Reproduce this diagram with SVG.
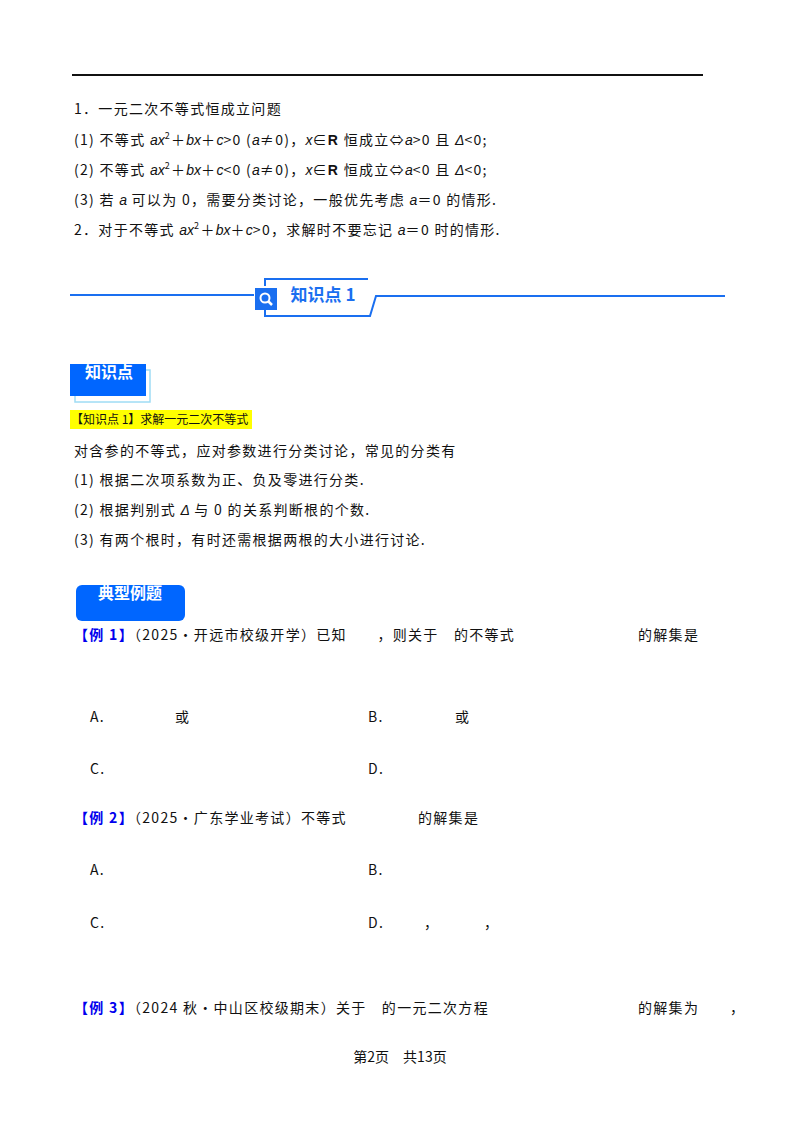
<svg xmlns="http://www.w3.org/2000/svg" width="800" height="1132" viewBox="0 0 800 1132">
<style>
.t{font-family:"Noto Sans CJK SC","Liberation Serif",serif;font-size:14px;fill:#111;letter-spacing:1.3px}
.m{font-family:"Liberation Sans",sans-serif;font-style:italic;letter-spacing:0}
.b{font-family:"Liberation Sans",sans-serif;font-weight:bold}
.w{font-family:"Noto Sans CJK SC",sans-serif;font-weight:bold;fill:#fff;font-size:16px}
.bl{fill:#0000ee;font-weight:bold}
</style>
<rect width="800" height="1132" fill="#fff"/>
<line x1="72" y1="75" x2="703" y2="75" stroke="#111" stroke-width="2"/>
<g id="intro">
<text class="t" x="74" y="114">1．一元二次不等式恒成立问题</text>
<text class="t" x="74" y="145">(1) 不等式 <tspan class="m">ax</tspan><tspan dy="-6" font-size="9">2</tspan><tspan dy="6">＋</tspan><tspan class="m">bx</tspan>＋<tspan class="m">c</tspan>&gt;0 (<tspan class="m">a</tspan>≠0)，<tspan class="m">x</tspan>∈<tspan class="b">R</tspan> 恒成立⇔<tspan class="m">a</tspan>&gt;0 且 <tspan class="m">Δ</tspan>&lt;0;</text>
<text class="t" x="74" y="175">(2) 不等式 <tspan class="m">ax</tspan><tspan dy="-6" font-size="9">2</tspan><tspan dy="6">＋</tspan><tspan class="m">bx</tspan>＋<tspan class="m">c</tspan>&lt;0 (<tspan class="m">a</tspan>≠0)，<tspan class="m">x</tspan>∈<tspan class="b">R</tspan> 恒成立⇔<tspan class="m">a</tspan>&lt;0 且 <tspan class="m">Δ</tspan>&lt;0;</text>
<text class="t" x="74" y="205">(3) 若 <tspan class="m">a</tspan> 可以为 0，需要分类讨论，一般优先考虑 <tspan class="m">a</tspan>＝0 的情形.</text>
<text class="t" x="74" y="235">2．对于不等式 <tspan class="m">ax</tspan><tspan dy="-6" font-size="9">2</tspan><tspan dy="6">＋</tspan><tspan class="m">bx</tspan>＋<tspan class="m">c</tspan>&gt;0，求解时不要忘记 <tspan class="m">a</tspan>＝0 时的情形.</text>
</g>
<g id="banner" fill="none" stroke="#1a6ff0" stroke-width="2">
<line x1="70" y1="295" x2="254" y2="295"/>
<polyline points="265,286 265,279 368,279"/>
<polyline points="265,309 265,316 370,316 376,296 725,296"/>
<rect x="255" y="288" width="22" height="22" fill="#1a6ff0" stroke="none"/>
<circle cx="265" cy="298" r="4.5" stroke="#fff" stroke-width="2"/>
<line x1="268" y1="301" x2="272" y2="305" stroke="#fff" stroke-width="2.5"/>
<text x="323" y="301" text-anchor="middle" font-family="Noto Sans CJK SC,sans-serif" font-weight="bold" font-size="17" fill="#1a6ff0" stroke="none">知识点 1</text>
</g>
<g id="kp-tag">
<rect x="75" y="370" width="75" height="32" fill="none" stroke="#9fdcf5" stroke-width="1.5"/>
<rect x="70" y="364" width="76" height="32" fill="#0066ff"/>
<text class="w" x="109" y="378" text-anchor="middle">知识点</text>
</g>
<g id="kp-body">
<rect x="70" y="410" width="182" height="19" fill="#ffff00"/>
<text x="71" y="424" font-family="Noto Sans CJK SC,sans-serif" font-size="12" fill="#111">【知识点 1】求解一元二次不等式</text>
<text class="t" x="74" y="456">对含参的不等式，应对参数进行分类讨论，常见的分类有</text>
<text class="t" x="74" y="485">(1) 根据二次项系数为正、负及零进行分类.</text>
<text class="t" x="74" y="515">(2) 根据判别式 <tspan class="m">Δ</tspan> 与 0 的关系判断根的个数.</text>
<text class="t" x="74" y="545">(3) 有两个根时，有时还需根据两根的大小进行讨论.</text>
</g>
<g id="ex-tag">
<rect x="76" y="585" width="109" height="36" rx="6" fill="#0066ff"/>
<text class="w" x="130" y="599" text-anchor="middle">典型例题</text>
</g>
<g id="examples">
<text class="t" x="74" y="640"><tspan class="bl">【例 1】</tspan>（2025•开远市校级开学）已知　　，则关于　的不等式</text>
<text class="t" x="638" y="640">的解集是</text>
<text class="t" x="90" y="722">A.</text><text class="t" x="175" y="722">或</text>
<text class="t" x="368" y="722">B.</text><text class="t" x="455" y="722">或</text>
<text class="t" x="90" y="774">C.</text><text class="t" x="368" y="774">D.</text>
<text class="t" x="74" y="823"><tspan class="bl">【例 2】</tspan>（2025•广东学业考试）不等式</text>
<text class="t" x="418" y="823">的解集是</text>
<text class="t" x="90" y="875">A.</text><text class="t" x="368" y="875">B.</text>
<text class="t" x="90" y="928">C.</text><text class="t" x="368" y="928">D.</text>
<text class="t" x="424" y="928">，</text><text class="t" x="484" y="928">，</text>
<text class="t" x="74" y="1013"><tspan class="bl">【例 3】</tspan>（2024 秋•中山区校级期末）关于　的一元二次方程</text>
<text class="t" x="638" y="1013">的解集为</text><text class="t" x="730" y="1013">，</text>
</g>
<text class="t" x="400" y="1062" text-anchor="middle" font-size="12" style="letter-spacing:0">第2页　共13页</text>
</svg>
